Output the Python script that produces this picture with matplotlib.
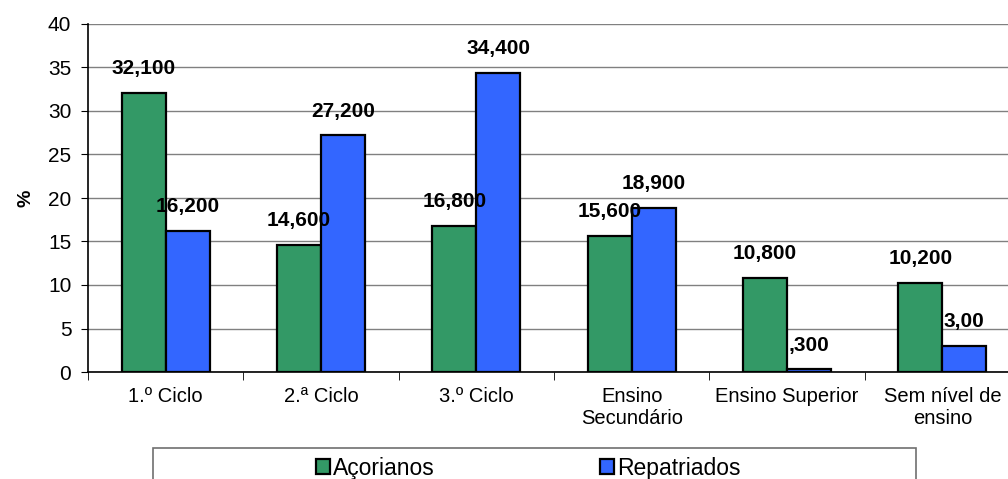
import numpy as np
from matplotlib import pyplot as plt
from matplotlib.patches import Rectangle

# categories and values (%)
categories = ['1.º Ciclo', '2.ª Ciclo', '3.º Ciclo', 'Ensino\nSecundário',
              'Ensino Superior', 'Sem nível de\nensino']
acorianos = [32.1, 14.6, 16.8, 15.6, 10.8, 10.2]
repatriados = [16.2, 27.2, 34.4, 18.9, 0.3, 3.0]
lab_acorianos = ['32,100', '14,600', '16,800', '15,600', '10,800', '10,200']
lab_repatriados = ['16,200', '27,200', '34,400', '18,900', ',300', '3,00']

plt.rcParams['font.family'] = ['Liberation Sans', 'DejaVu Sans']

fig = plt.figure(figsize=(10.08, 4.79), dpi=100)
ax = fig.add_axes([88/1008, 1 - 372/479, (1020-88)/1008, (372-24)/479])

x = np.arange(len(categories))
w = 0.283
b1 = ax.bar(x - w/2, acorianos, w, color='#339966', edgecolor='black', lw=1.6,
            label='Açorianos', zorder=3)
b2 = ax.bar(x + w/2, repatriados, w, color='#3366FF', edgecolor='black', lw=1.6,
            label='Repatriados', zorder=3)

# value labels above bars
for xi, v, t in zip(x - w/2, acorianos, lab_acorianos):
    ax.annotate(t, (xi, v), xytext=(0, 17.5), textcoords='offset points',
                ha='center', va='center', fontsize=15, fontweight='bold', zorder=5)
for xi, v, t in zip(x + w/2, repatriados, lab_repatriados):
    ax.annotate(t, (xi, v), xytext=(0, 17.5), textcoords='offset points',
                ha='center', va='center', fontsize=15, fontweight='bold', zorder=5)

ax.set_xlim(-0.5, len(categories) - 0.5)
ax.set_ylim(0, 40)
ax.set_yticks(range(0, 41, 5))
ax.tick_params(axis='y', labelsize=15, length=5, direction='out', pad=7)
ax.set_xticks(x)
ax.set_xticklabels(categories, fontsize=14.5, linespacing=1.15)
ax.tick_params(axis='x', length=0, pad=11)
ax.set_xticks(np.arange(-0.5, len(categories), 1), minor=True)
ax.tick_params(axis='x', which='minor', length=6, direction='out')
ax.grid(axis='y', color='#808080', lw=1, zorder=0)
for s in ['top', 'right']:
    ax.spines[s].set_visible(False)
ax.spines['left'].set_linewidth(1.2)
ax.spines['bottom'].set_linewidth(1.2)
ax.set_ylabel('%', fontsize=14, fontweight='bold', labelpad=10)

# legend frame (cut by the bottom edge) and entries
fig.patches.append(Rectangle((153/1008, -0.05), (916-153)/1008, 0.05 + 1 - 448/479,
                             transform=fig.transFigure, fill=False,
                             edgecolor='#707070', lw=1.2))
leg = fig.legend(handles=[b1, b2], loc='center left',
                 bbox_to_anchor=(316/1008, 1 - 468/479),
                 ncol=2, fontsize=16.5, frameon=False,
                 handlelength=0.6, handleheight=0.6, handletextpad=0.15,
                 columnspacing=7.2, borderaxespad=0, borderpad=0)

fig.savefig('out.png', dpi=100)
